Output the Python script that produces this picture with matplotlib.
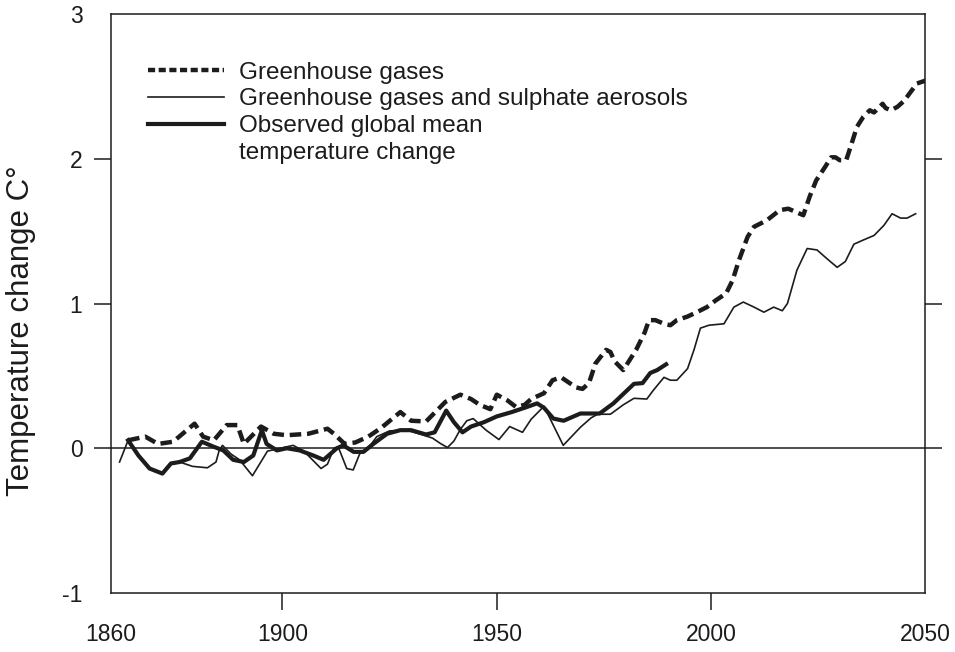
import matplotlib
matplotlib.use("Agg")
import matplotlib.pyplot as plt
from matplotlib.lines import Line2D

plt.rcParams['font.family'] = ['Liberation Sans', 'DejaVu Sans']

INK = '#1c1c1c'

# greenhouse gases only (dashed)
ghg_years = [1864, 1868, 1871, 1874.5, 1879.5, 1881.5, 1884, 1887, 1889.5, 1891,
             1895, 1898, 1901, 1906, 1910.5, 1912, 1914.5, 1917, 1920, 1923,
             1927.5, 1930, 1933.5, 1936, 1938, 1941.5, 1944, 1946, 1948.5, 1950,
             1952.5, 1954.5, 1956.5, 1958, 1961, 1963, 1965, 1968.5, 1970, 1971.5,
             1973, 1975.5, 1976.5, 1977.5, 1979.5, 1981, 1982.5, 1984.5, 1985.5, 1987,
             1989, 1990.5, 1992, 1994.5, 1997, 1999, 2001, 2003.5, 2005, 2006.5,
             2008.5, 2010, 2013, 2016, 2018, 2021.5, 2023, 2024.5, 2026.5, 2028,
             2029, 2030, 2031.5, 2032.5, 2034, 2035.5, 2037, 2038, 2040, 2040.7,
             2042, 2043.5, 2045, 2046.5, 2048, 2050]
ghg_vals = [0.055, 0.08, 0.03, 0.045, 0.17, 0.08, 0.055, 0.16, 0.16, 0.03,
            0.15, 0.10, 0.09, 0.10, 0.135, 0.10, 0.03, 0.04, 0.08, 0.14,
            0.25, 0.19, 0.185, 0.26, 0.32, 0.37, 0.34, 0.30, 0.27, 0.37,
            0.33, 0.285, 0.30, 0.34, 0.38, 0.47, 0.49, 0.42, 0.41, 0.45,
            0.585, 0.68, 0.665, 0.60, 0.54, 0.61, 0.68, 0.80, 0.885, 0.885,
            0.86, 0.85, 0.885, 0.91, 0.945, 0.975, 1.02, 1.07, 1.16, 1.30,
            1.46, 1.53, 1.575, 1.645, 1.655, 1.61, 1.74, 1.85, 1.94, 2.01,
            2.01, 1.99, 1.99, 2.08, 2.22, 2.29, 2.335, 2.32, 2.38, 2.35,
            2.335, 2.36, 2.40, 2.46, 2.52, 2.54]

# greenhouse gases and sulphate aerosols (thin)
aer_years = [1862, 1864, 1866.5, 1869, 1872, 1874, 1876, 1879, 1882.5, 1884.5,
             1885.2, 1886, 1888, 1890, 1893, 1896.5, 1899.5, 1902.5, 1905, 1907,
             1909, 1910.5, 1912, 1913, 1915, 1916.5, 1918, 1920.5, 1922, 1925,
             1929, 1933, 1935, 1937, 1938.5, 1940, 1941.5, 1943, 1944.5, 1947.5,
             1950.5, 1953, 1956, 1958, 1961, 1963, 1965.5, 1969.5, 1972, 1973.5,
             1976.5, 1979.5, 1982, 1985, 1986.5, 1989, 1990.5, 1992, 1994.5, 1996,
             1997.5, 1999.5, 2003, 2005.3, 2007.5, 2010, 2012.3, 2014.6, 2016.6, 2017.8,
             2020, 2022.4, 2024.7, 2027, 2029.4, 2031.3, 2033.3, 2035.6, 2038, 2040.3,
             2042.2, 2044.2, 2045.7, 2047.7]
aer_vals = [-0.095, 0.055, -0.05, -0.14, -0.175, -0.105, -0.095, -0.125, -0.135, -0.095,
            -0.02, 0.02, -0.04, -0.08, -0.19, -0.02, 0.0, 0.02, -0.02, -0.08,
            -0.14, -0.11, 0.0, 0.01, -0.14, -0.15, -0.04, 0.02, 0.08, 0.12,
            0.125, 0.09, 0.07, 0.03, 0.005, 0.05, 0.13, 0.19, 0.205, 0.125,
            0.06, 0.15, 0.11, 0.20, 0.29, 0.17, 0.02, 0.145, 0.21, 0.235,
            0.235, 0.30, 0.345, 0.34, 0.40, 0.49, 0.47, 0.47, 0.55, 0.68,
            0.83, 0.85, 0.86, 0.975, 1.01, 0.975, 0.94, 0.975, 0.95, 1.0,
            1.23, 1.38, 1.37, 1.31, 1.25, 1.29, 1.41, 1.44, 1.47, 1.54,
            1.62, 1.59, 1.59, 1.62]

# observed global mean temperature change (thick)
obs_years = [1864, 1866.4, 1869, 1872, 1874, 1876, 1878.4, 1881.2, 1884, 1886.2,
             1888.5, 1891, 1893.2, 1895.2, 1896.3, 1898.7, 1901, 1904, 1907.2, 1909.6,
             1912.7, 1914.2, 1916.6, 1918.9, 1921.2, 1924.4, 1927.5, 1930, 1933.5, 1935.5,
             1938.2, 1940, 1942, 1944, 1947, 1950, 1953.5, 1957, 1959.4, 1961,
             1963.2, 1965.6, 1969.5, 1974, 1977.2, 1980.4, 1982, 1984, 1985.8, 1987.4,
             1989.5]
obs_vals = [0.055, -0.05, -0.14, -0.175, -0.105, -0.095, -0.07, 0.045, 0.01, -0.015,
            -0.08, -0.095, -0.05, 0.125, 0.03, -0.015, 0.0, -0.015, -0.05, -0.08,
            0.0, 0.02, -0.025, -0.025, 0.03, 0.10, 0.125, 0.125, 0.095, 0.11,
            0.26, 0.18, 0.11, 0.15, 0.18, 0.22, 0.25, 0.285, 0.31, 0.28,
            0.205, 0.19, 0.24, 0.24, 0.31, 0.40, 0.445, 0.45, 0.52, 0.54,
            0.58]

x_ticks = [1860, 1900, 1950, 2000, 2050]
y_ticks = [-1, 0, 1, 2, 3]
legend_labels = ["Greenhouse gases",
                 "Greenhouse gases and sulphate aerosols",
                 "Observed global mean",
                 "temperature change"]

fig = plt.figure(figsize=(9.55, 6.52), dpi=100)
ax = fig.add_axes([0.1162, 0.0905, 0.8529, 0.888])

ax.axhline(0, color=INK, lw=1.1, zorder=1)
ax.plot(ghg_years, ghg_vals, color=INK, lw=3.2, dashes=(2.6, 1.3), solid_joinstyle='round')
ax.plot(aer_years, aer_vals, color=INK, lw=1.2)
ax.plot(obs_years, obs_vals, color=INK, lw=3.0, solid_joinstyle='round')

ax.set_xlim(1860, 2050)
ax.set_ylim(-1, 3)
ax.set_xticks(x_ticks)
ax.set_yticks(y_ticks)
ax.set_xticklabels([str(t) for t in x_ticks])
ax.set_yticklabels([str(t) for t in y_ticks])

for s in ax.spines.values():
    s.set_linewidth(1.1)
    s.set_color(INK)

ax.tick_params(axis='both', direction='out', length=12.5, width=1.1, color=INK,
               labelcolor=INK, labelsize=16.5)
ax.tick_params(axis='y', right=True, pad=8)
ax.tick_params(axis='x', pad=9)

# no tick marks at the corners
for t in (ax.xaxis.get_major_ticks()[0], ax.xaxis.get_major_ticks()[-1]):
    t.tick1line.set_visible(False)
for t in (ax.yaxis.get_major_ticks()[0], ax.yaxis.get_major_ticks()[-1]):
    t.tick1line.set_visible(False)
    t.tick2line.set_visible(False)

ax.set_ylabel("Temperature change C°", fontsize=22.5, color=INK)
ax.yaxis.set_label_coords(-0.092, 0.4525)

handles = [Line2D([], [], color=INK, lw=3.2, dashes=(1.6, 0.8)),
           Line2D([], [], color=INK, lw=1.2),
           Line2D([], [], color=INK, lw=3.0),
           Line2D([], [], color='none')]
ax.legend(handles, legend_labels, loc='upper left', bbox_to_anchor=(0.045, 0.918),
          frameon=False, fontsize=17.5, handlelength=3.15, handletextpad=0.62,
          labelspacing=0.2, borderpad=0, borderaxespad=0, labelcolor=INK)

fig.savefig("out.png", dpi=100)
